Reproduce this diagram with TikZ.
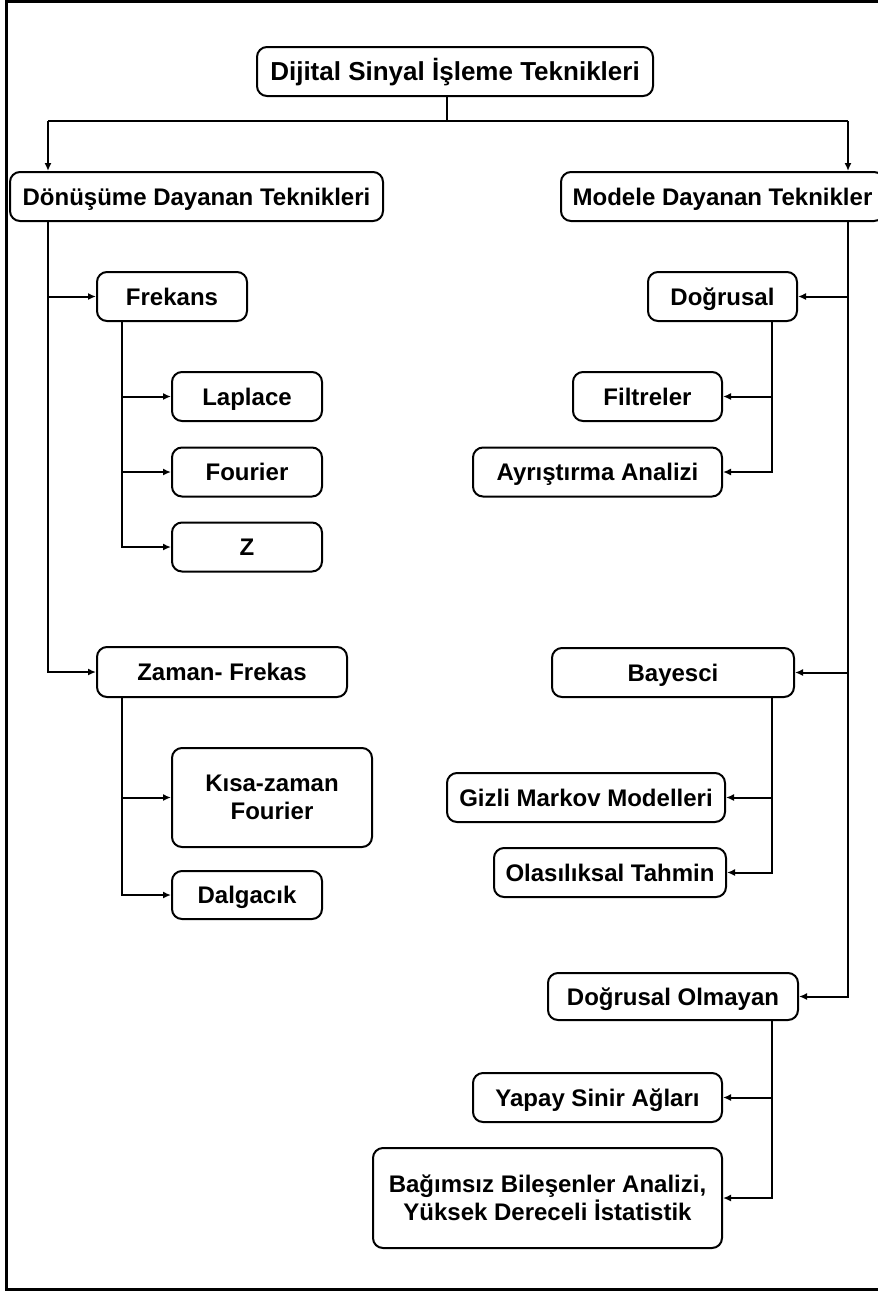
\documentclass[tikz,border=0pt]{standalone}
\usepackage{fontspec}
\setmainfont{Liberation Sans}
\usetikzlibrary{arrows.meta}
\tikzset{
    box/.style={draw, line width=1pt, rounded corners=5pt, align=center, inner sep=0pt,
        minimum height=24.5pt, text height=8.6pt, text depth=0pt,
        font=\bfseries\fontsize{12}{14}\selectfont},
    tallbox/.style={box, text height=, text depth=},
    link/.style={line width=1pt},
    arr/.style={link, -{Latex[length=4pt,width=3.5pt]}}
}
\begin{document}
\begin{tikzpicture}[x=0.5pt,y=-0.5pt]
    \useasboundingbox (0,0) rectangle (878,1291);
    % Frame
    \draw[line width=1.5pt] (6.5,1.5) rectangle (900,1289.5);
    % Title
    \node[box, minimum width=198pt, text height=9.3pt, font=\bfseries\fontsize{13}{15}\selectfont] (title) at (455,71.5) {Dijital Sinyal İşleme Teknikleri};
    \coordinate (split) at (447,121);
    \coordinate (lsplit) at (48,121);
    \coordinate (rsplit) at (848,121);
    \coordinate (fsub) at (122,0);
    \coordinate (dsub) at (772,0);
    % Main branches
    \node[box, minimum width=186.5pt] (donusum) at (196.5,196.5) {Dönüşüme Dayanan Teknikleri};
    \node[box, minimum width=161.5pt] (modele) at (722.5,196.5) {Modele Dayanan Teknikler};
    % Left-hand boxes
    \node[box, minimum width=75pt] (frekans) at (172,296.5) {Frekans};
    \node[box, minimum width=75pt] (laplace) at (247,396.5) {Laplace};
    \node[box, minimum width=75pt] (fourier) at (247,472) {Fourier};
    \node[box, minimum width=75pt] (zdonusum) at (247,547) {Z};
    \node[box, minimum width=125pt, minimum height=25pt] (zaman) at (222,672) {Zaman- Frekas};
    \node[tallbox, minimum width=100pt, minimum height=49.5pt] (kisa) at (272,797.5) {Kısa-zaman\\Fourier};
    \node[box, minimum width=75pt, minimum height=24pt] (dalgacik) at (247,895) {Dalgacık};
    % Right-hand boxes
    \node[box, minimum width=74.5pt] (dogrusal) at (722.5,296.5) {Doğrusal};
    \node[box, minimum width=74.5pt] (filtreler) at (647.5,396.5) {Filtreler};
    \node[box, minimum width=124.5pt] (ayristirma) at (597.5,472) {Ayrıştırma Analizi};
    \node[box, minimum width=121pt] (bayesci) at (673,672.5) {Bayesci};
    \node[box, minimum width=139pt] (gizli) at (586,797.5) {Gizli Markov Modelleri};
    \node[box, minimum width=116pt] (olasiliksal) at (610,872.5) {Olasılıksal Tahmin};
    \node[box, minimum width=125pt, minimum height=23.5pt] (olmayan) at (673,996.5) {Doğrusal Olmayan};
    \node[box, minimum width=124.5pt] (yapay) at (597.5,1097.5) {Yapay Sinir Ağları};
    \node[tallbox, minimum width=174.5pt, minimum height=50pt] (bagimsiz) at (547.5,1198) {Bağımsız Bileşenler Analizi,\\Yüksek Dereceli İstatistik};
    % Title split
    \draw[link] (title.south -| split) -- (split);
    \draw[link] (lsplit) -- (rsplit);
    \draw[arr] (lsplit) -- (lsplit |- donusum.north);
    \draw[arr] (rsplit) -- (rsplit |- modele.north);
    % Left-hand arrows
    \draw[arr] (donusum.south -| lsplit) |- (frekans);
    \draw[arr] (donusum.south -| lsplit) |- (zaman);
    \draw[arr] (frekans.south -| fsub) |- (laplace);
    \draw[arr] (frekans.south -| fsub) |- (fourier);
    \draw[arr] (frekans.south -| fsub) |- (zdonusum);
    \draw[arr] (zaman.south -| fsub) |- (kisa);
    \draw[arr] (zaman.south -| fsub) |- (dalgacik);
    % Right-hand arrows
    \draw[arr] (modele.south -| rsplit) |- (dogrusal);
    \draw[arr] (modele.south -| rsplit) |- (bayesci);
    \draw[arr] (modele.south -| rsplit) |- (olmayan);
    \draw[arr] (dogrusal.south -| dsub) |- (filtreler);
    \draw[arr] (dogrusal.south -| dsub) |- (ayristirma);
    \draw[arr] (bayesci.south -| dsub) |- (gizli);
    \draw[arr] (bayesci.south -| dsub) |- (olasiliksal);
    \draw[arr] (olmayan.south -| dsub) |- (yapay);
    \draw[arr] (olmayan.south -| dsub) |- (bagimsiz);
\end{tikzpicture}
\end{document}
